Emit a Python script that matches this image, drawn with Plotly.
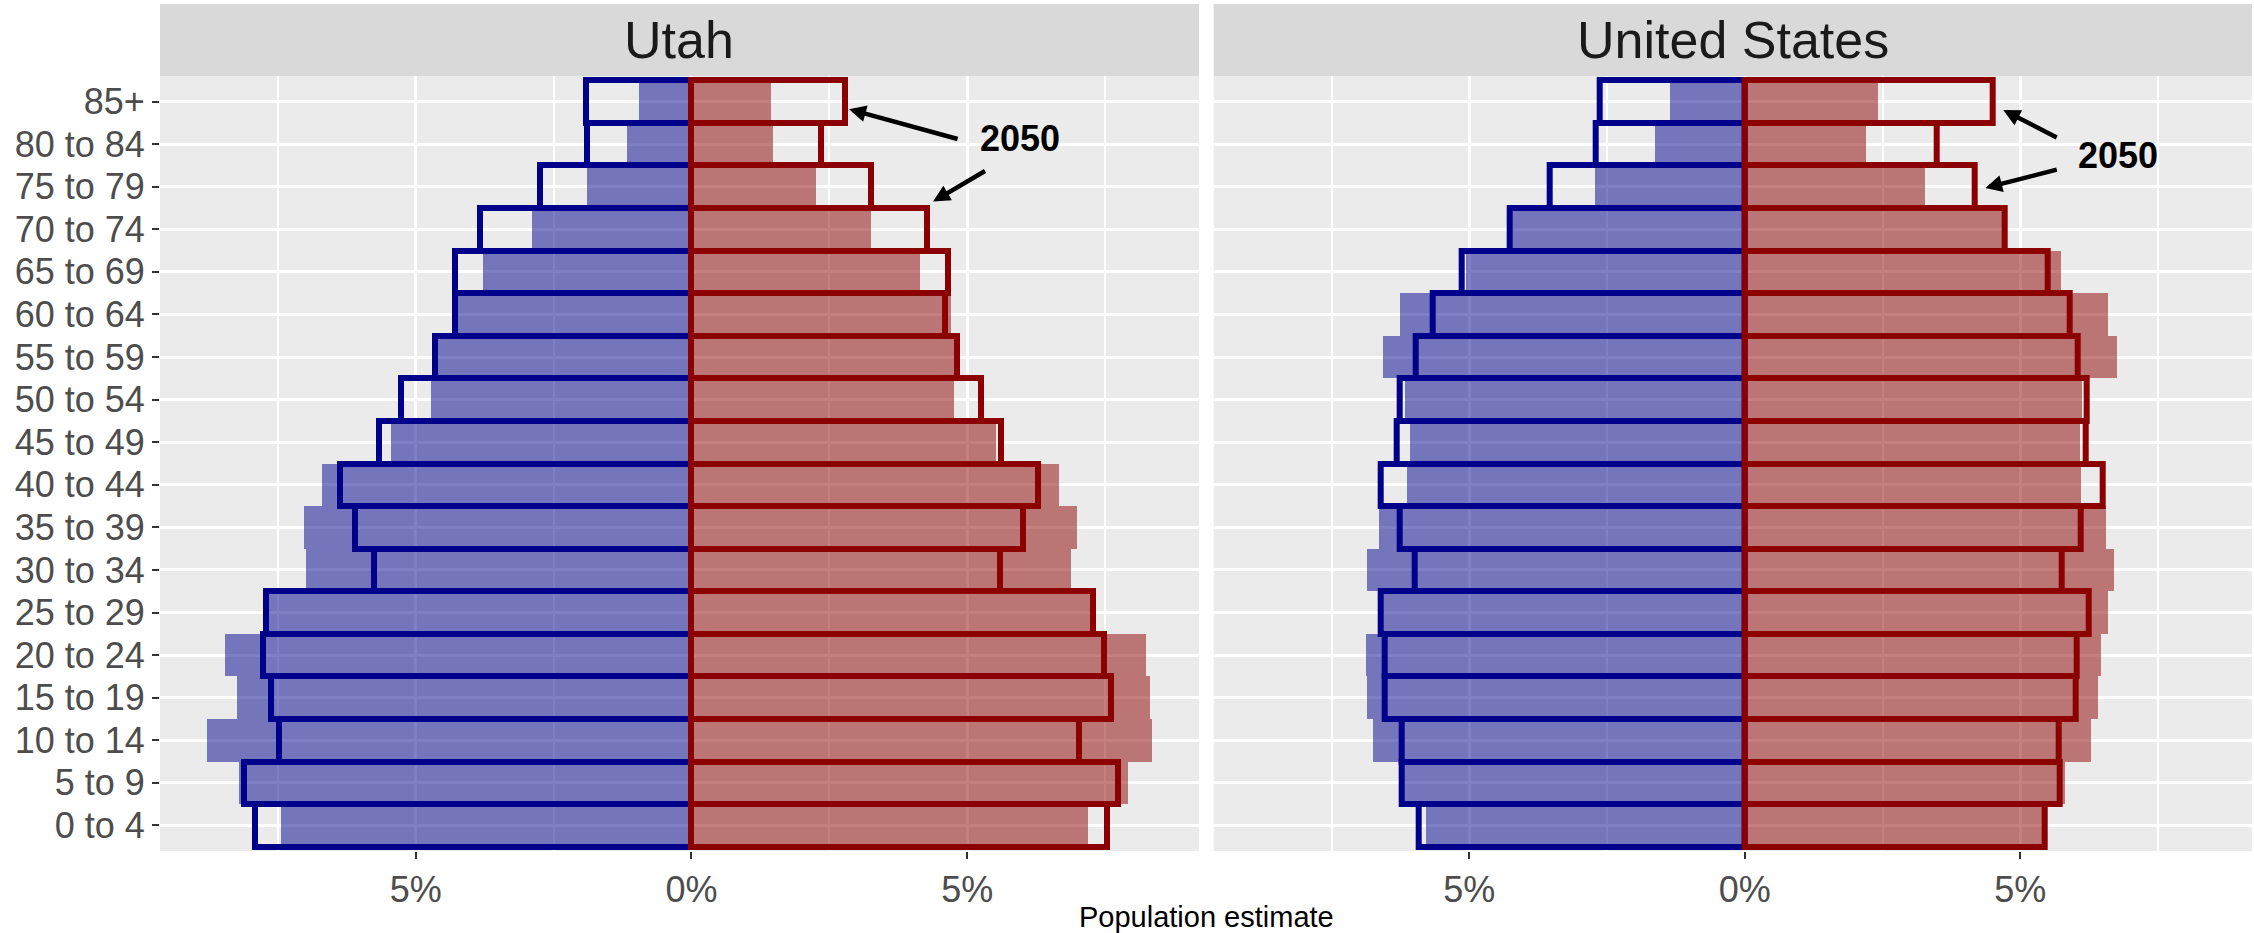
import plotly.graph_objects as go

age_groups = ["0 to 4", "5 to 9", "10 to 14", "15 to 19", "20 to 24", "25 to 29",
              "30 to 34", "35 to 39", "40 to 44", "45 to 49", "50 to 54", "55 to 59",
              "60 to 64", "65 to 69", "70 to 74", "75 to 79", "80 to 84", "85+"]

# Percent of population (male values plotted to the left)
utah_male_now = [7.45, 8.20, 8.78, 8.25, 8.47, 7.67, 7.00, 7.03, 6.70, 5.45, 4.72, 4.65,
                 4.34, 3.79, 2.90, 1.90, 1.17, 0.96]
utah_female_now = [7.20, 7.91, 8.35, 8.32, 8.24, 7.24, 6.89, 7.00, 6.67, 5.53, 4.77, 4.77,
                   4.70, 4.15, 3.26, 2.26, 1.48, 1.44]
utah_male_2050 = [7.92, 8.11, 7.49, 7.63, 7.77, 7.71, 5.76, 6.10, 6.38, 5.66, 5.27, 4.65,
                  4.29, 4.29, 3.84, 2.75, 1.89, 1.91]
utah_female_2050 = [7.53, 7.73, 7.03, 7.60, 7.48, 7.28, 5.60, 6.01, 6.28, 5.62, 5.26, 4.81,
                    4.60, 4.65, 4.27, 3.25, 2.34, 2.79]

us_male_now = [5.80, 6.23, 6.76, 6.87, 6.88, 6.65, 6.87, 6.64, 6.13, 6.08, 6.17, 6.58,
               6.26, 5.06, 4.27, 2.72, 1.63, 1.36]
us_female_now = [5.38, 5.81, 6.27, 6.40, 6.45, 6.58, 6.70, 6.55, 6.10, 6.08, 6.12, 6.75,
                 6.58, 5.73, 4.67, 3.27, 2.20, 2.42]
us_male_2050 = [5.92, 6.23, 6.23, 6.54, 6.53, 6.61, 5.99, 6.27, 6.60, 6.32, 6.27, 5.97,
                5.67, 5.13, 4.27, 3.54, 2.70, 2.63]
us_female_2050 = [5.45, 5.72, 5.69, 6.01, 6.02, 6.24, 5.75, 6.10, 6.49, 6.18, 6.20, 6.04,
                  5.90, 5.49, 4.72, 4.18, 3.49, 4.49]

panel_titles = ["Utah", "United States"]
x_tick_vals = [-5, 0, 5]
x_tick_text = ["5%", "0%", "5%"]
x_minor_vals = [-7.5, -2.5, 2.5, 7.5]
annotation_label = "2050"

FONT = "Liberation Sans, Arial, Helvetica, sans-serif"
BLUE = "#00008B"
RED = "#8B0000"
BLUE_FILL = "rgba(0,0,139,0.5)"
RED_FILL = "rgba(139,0,0,0.5)"

fig = go.Figure()


def add_panel(xa, ya, m_now, f_now, m_2050, f_2050):
    fig.add_trace(go.Bar(y=age_groups, x=[-v for v in m_now], orientation="h", width=1,
                         marker=dict(color=BLUE_FILL, line=dict(width=0)),
                         xaxis=xa, yaxis=ya, showlegend=False))
    fig.add_trace(go.Bar(y=age_groups, x=f_now, orientation="h", width=1,
                         marker=dict(color=RED_FILL, line=dict(width=0)),
                         xaxis=xa, yaxis=ya, showlegend=False))
    fig.add_trace(go.Bar(y=age_groups, x=[-v for v in m_2050], orientation="h", width=1,
                         marker=dict(color="rgba(0,0,0,0)", line=dict(width=6, color=BLUE)),
                         xaxis=xa, yaxis=ya, showlegend=False))
    fig.add_trace(go.Bar(y=age_groups, x=f_2050, orientation="h", width=1,
                         marker=dict(color="rgba(0,0,0,0)", line=dict(width=6, color=RED)),
                         xaxis=xa, yaxis=ya, showlegend=False))


add_panel("x", "y", utah_male_now, utah_female_now, utah_male_2050, utah_female_2050)
add_panel("x2", "y2", us_male_now, us_female_now, us_male_2050, us_female_2050)

Y_TOP = 0.915
dom1 = [0, 0.49665]
dom2 = [0.50368, 1]

xcommon = dict(range=[-9.64, 9.205], tickmode="array", tickvals=x_tick_vals, ticktext=x_tick_text,
               showgrid=True, gridcolor="white", gridwidth=3, zeroline=False,
               ticks="outside", ticklen=7, tickwidth=2, tickcolor="#333333",
               tickfont=dict(family=FONT, size=36, color="#4D4D4D"),
               minor=dict(tickmode="array", tickvals=x_minor_vals, showgrid=True,
                          gridcolor="white", gridwidth=1.5, ticks=""),
               showline=False, fixedrange=True, automargin=False)

ycommon = dict(type="category", categoryorder="array", categoryarray=age_groups,
               tickmode="array", tickvals=age_groups, ticktext=age_groups,
               range=[-0.6, 17.6], showgrid=True, gridcolor="white", gridwidth=3,
               zeroline=False, showline=False, domain=[0, Y_TOP], fixedrange=True,
               automargin=False)

fig.update_layout(
    width=2254, height=933,
    margin=dict(l=160, r=2, t=4, b=82, autoexpand=False),
    paper_bgcolor="white", plot_bgcolor="#EBEBEB",
    barmode="overlay", bargap=0,
    font=dict(family=FONT),
    xaxis=dict(domain=dom1, anchor="y", **xcommon),
    xaxis2=dict(domain=dom2, anchor="y2", **xcommon),
    yaxis=dict(anchor="x", ticks="outside", ticklen=7, tickwidth=2, tickcolor="#333333",
               tickfont=dict(family=FONT, size=36, color="#4D4D4D"), **ycommon),
    yaxis2=dict(anchor="x2", matches="y", showticklabels=False, ticks="", **ycommon),
)

shapes = []
annotations = []
for dom, title in zip([dom1, dom2], panel_titles):
    shapes.append(dict(type="rect", xref="paper", yref="paper", x0=dom[0], x1=dom[1],
                       y0=Y_TOP, y1=1.0, fillcolor="#D9D9D9", line=dict(width=0), layer="below"))
    annotations.append(dict(xref="paper", yref="paper", x=(dom[0] + dom[1]) / 2,
                            y=(Y_TOP + 1.0) / 2, text=title, showarrow=False,
                            font=dict(family=FONT, size=52, color="#1A1A1A"),
                            xanchor="center", yanchor="middle"))

# x-axis title
annotations.append(dict(xref="paper", yref="paper", x=0.5, y=-0.078, text="Population estimate",
                        showarrow=False, font=dict(family=FONT, size=29, color="black"),
                        xanchor="center", yanchor="middle"))

# 2050 labels and arrows (data coordinates)
label_specs = [
    ("x", "y", 5.955, 16.13, [((2.859, 16.82), (4.854, 16.11)), ((4.382, 14.65), (5.351, 15.39))]),
    ("x2", "y2", 6.768, 15.74, [((4.691, 16.80), (5.688, 16.14)), ((4.364, 14.97), (5.688, 15.41))]),
]
for xr, yr, tx, ty, arrows in label_specs:
    annotations.append(dict(xref=xr, yref=yr, x=tx, y=ty, text="<b>" + annotation_label + "</b>",
                            showarrow=False, font=dict(family=FONT, size=36, color="black"),
                            xanchor="center", yanchor="middle"))
    for (hx, hy), (tlx, tly) in arrows:
        annotations.append(dict(xref=xr, yref=yr, x=hx, y=hy, axref=xr, ayref=yr, ax=tlx, ay=tly,
                                text="", showarrow=True, arrowhead=2, arrowsize=0.75,
                                arrowwidth=4.5, arrowcolor="black", standoff=0))

fig.update_layout(shapes=shapes, annotations=annotations)
fig.write_html("out.html", config={"displayModeBar": False},
               post_script="document.body.style.margin='0';document.body.style.overflow='hidden';")
